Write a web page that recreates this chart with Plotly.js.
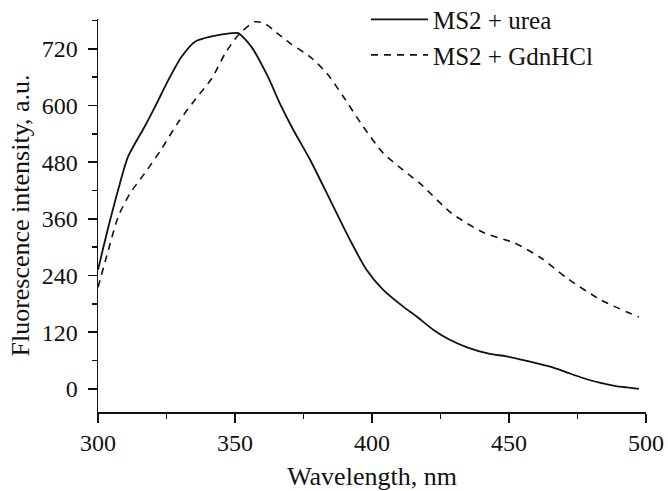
<!DOCTYPE html>
<html>
<head>
<meta charset="utf-8">
<script src="https://cdn.plot.ly/plotly-3.0.1.min.js"></script>
<style>
html,body{margin:0;padding:0;background:#fff;}
#chart{width:668px;height:491px;}
</style>
</head>
<body>
<div id="chart"></div>
<script>
// MS2 + urea (solid)
var ureaX = [300, 303.8, 308, 311, 317, 320.8, 325.7, 330.5, 335.4, 341.5, 348.8, 351.2, 356, 362, 366.4, 371.3, 377.4, 384.7, 392, 398, 404, 411.4, 416.3, 422.6, 428, 434.7, 443, 449, 456.6, 465, 471, 477, 483, 489, 493, 497.4];
var ureaY = [252, 343, 435, 492, 555, 597, 654, 703, 735, 746, 753, 753, 724, 661, 604, 548, 485, 400, 315, 252, 210, 174, 153, 124, 105, 88, 74, 69, 59, 47, 35, 23, 13, 6, 3, 0];
// MS2 + GdnHCl (dashed)
var gdnX = [300, 303.8, 307.4, 311.7, 317, 323, 329, 335.4, 341.5, 346.4, 351.2, 357.3, 361, 365, 370, 377.4, 383.5, 389.5, 396.8, 404.1, 411.4, 417.5, 429, 441, 452, 461.7, 471, 483.6, 497.4];
var gdnY = [215, 294, 365, 414, 456, 506, 562, 612, 657, 710, 749, 777, 773, 755, 732, 703, 668, 619, 555, 499, 463, 435, 372, 330, 309, 277, 235, 188, 152];

var xTicks = [300, 350, 400, 450, 500];
var yTicks = [0, 120, 240, 360, 480, 600, 720];

var tickFont = {family: 'Liberation Serif', size: 24, color: '#111'};
var titleFont = {family: 'Liberation Serif', size: 26, color: '#111'};
var legendFont = {family: 'Liberation Serif', size: 25, color: '#111'};

var traces = [
  {x: ureaX, y: ureaY, type: 'scatter', mode: 'lines', name: 'MS2 + urea',
   line: {color: '#111', width: 1.8, shape: 'spline', smoothing: 0.7}},
  {x: gdnX, y: gdnY, type: 'scatter', mode: 'lines', name: 'MS2 + GdnHCl',
   line: {color: '#111', width: 1.6, dash: '7px,6px', shape: 'spline', smoothing: 0.7}}
];

var layout = {
  width: 668, height: 491,
  margin: {l: 98, r: 22, t: 19, b: 79, autoexpand: false},
  paper_bgcolor: '#fff', plot_bgcolor: '#fff',
  font: tickFont,
  showlegend: true,
  legend: {x: 0.489, y: 1.057, xanchor: 'left', yanchor: 'top', bgcolor: 'rgba(0,0,0,0)',
           font: legendFont, itemwidth: 57, tracegroupgap: 0},
  xaxis: {
    range: [300, 500], tickvals: xTicks, ticktext: xTicks.map(String),
    ticks: 'outside', ticklen: 9, tickwidth: 1.5, tickcolor: '#111',
    minor: {dtick: 25, ticks: 'outside', ticklen: 5, tickwidth: 1.5, tickcolor: '#111'},
    showline: true, linecolor: '#111', linewidth: 1.5, showgrid: false, zeroline: false,
    tickfont: tickFont, automargin: false,
    title: {text: 'Wavelength, nm', font: titleFont, standoff: 13}
  },
  yaxis: {
    range: [-49, 783], tickvals: yTicks, ticktext: yTicks.map(String),
    ticks: 'outside', ticklen: 9, tickwidth: 1.5, tickcolor: '#111',
    minor: {dtick: 60, ticks: 'outside', ticklen: 5, tickwidth: 1.5, tickcolor: '#111'},
    showline: true, linecolor: '#111', linewidth: 1.5, showgrid: false, zeroline: false,
    tickfont: tickFont, ticklabelstandoff: 5, automargin: false,
    title: {text: 'Fluorescence intensity, a.u.', font: titleFont, standoff: 4}
  }
};

Plotly.newPlot('chart', traces, layout, {displayModeBar: false, staticPlot: true});
</script>
</body>
</html>
